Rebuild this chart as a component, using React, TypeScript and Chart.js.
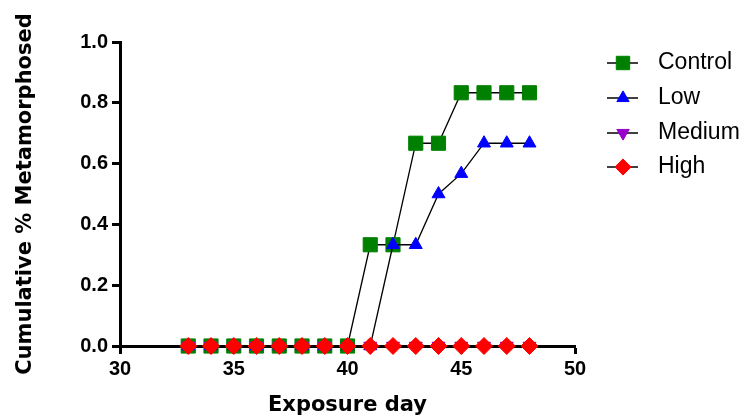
import React, { useEffect, useRef } from 'react';
import { Chart, registerables } from 'chart.js';
import { drawPoint } from 'chart.js/helpers';

Chart.register(...registerables);

const days = [33, 34, 35, 36, 37, 38, 39, 40, 41, 42, 43, 44, 45, 46, 47, 48];
const control = [0, 0, 0, 0, 0, 0, 0, 0, 0.333, 0.333, 0.667, 0.667, 0.833, 0.833, 0.833, 0.833];
const low = [0, 0, 0, 0, 0, 0, 0, 0, 0, 0.333, 0.333, 0.5, 0.567, 0.667, 0.667, 0.667];
const medium = [0, 0, 0, 0, 0, 0, 0, 0, 0, 0, 0, 0, 0, 0, 0, 0];
const high = [0, 0, 0, 0, 0, 0, 0, 0, 0, 0, 0, 0, 0, 0, 0, 0];
const seriesNames = ['Control', 'Low', 'Medium', 'High'];
const xTitle = 'Exposure day';
const yTitle = 'Cumulative % Metamorphosed';

const styles = [
  { color: '#008000', pointStyle: 'rect', radius: 10, rotation: 0 },
  { color: '#0000ff', pointStyle: 'triangle', radius: 7.5, rotation: 0 },
  { color: '#9900cc', pointStyle: 'triangle', radius: 7.5, rotation: 180 },
  { color: '#ff0000', pointStyle: 'rectRot', radius: 8.5, rotation: 0 },
];

const FONT = '"Liberation Sans", Arial, sans-serif';
const TITLE_FONT = '"DejaVu Sans", sans-serif';

const legendPlugin = {
  id: 'customLegend',
  afterDraw(chart: any) {
    const ctx = chart.ctx;
    const x0 = 607;
    const rows = [63, 98, 133, 167];
    ctx.save();
    seriesNames.forEach((name, i) => {
      const y = rows[i];
      const s = styles[i];
      ctx.strokeStyle = '#000';
      ctx.lineWidth = 1.5;
      ctx.beginPath();
      ctx.moveTo(x0, y);
      ctx.lineTo(x0 + 31, y);
      ctx.stroke();
      ctx.fillStyle = s.color;
      ctx.strokeStyle = s.color;
      ctx.lineWidth = 1;
      drawPoint(ctx, { pointStyle: s.pointStyle, radius: s.radius * 0.95, rotation: s.rotation, borderWidth: 1 }, x0 + 16, y);
      ctx.fillStyle = '#000';
      ctx.font = `23px ${FONT}`;
      ctx.textBaseline = 'middle';
      ctx.textAlign = 'left';
      ctx.fillText(name, x0 + 51, y);
    });
    ctx.restore();
  },
};

export default function App() {
  const ref = useRef<HTMLCanvasElement>(null);
  useEffect(() => {
    const all = [control, low, medium, high];
    const datasets = all.map((vals, i) => ({
      label: seriesNames[i],
      data: days.map((d, j) => ({ x: d, y: vals[j] })),
      borderColor: '#000',
      borderWidth: 1.3,
      pointStyle: styles[i].pointStyle,
      pointRadius: styles[i].radius,
      pointRotation: styles[i].rotation,
      pointBackgroundColor: styles[i].color,
      pointBorderColor: styles[i].color,
      pointBorderWidth: 1,
      clip: false,
      order: 3 - i,
      tension: 0,
    }));
    const chart = new Chart(ref.current!, {
      type: 'line',
      data: { datasets },
      plugins: [legendPlugin],
      options: {
        animation: false,
        responsive: false,
        layout: { padding: { left: 0, right: 169, top: 42, bottom: 0 } },
        plugins: { legend: { display: false }, tooltip: { enabled: false } },
        scales: {
          x: {
            type: 'linear',
            min: 30,
            max: 50,
            afterFit: (s: any) => { s.height = 72; },
            ticks: { stepSize: 5, color: '#000', font: { family: FONT, size: 20, weight: 'bold' }, padding: 3 },
            grid: { drawOnChartArea: false, tickLength: 8, tickWidth: 3, tickColor: '#000' },
            border: { color: '#000', width: 3 },
            title: { display: true, text: xTitle, color: '#000', font: { family: TITLE_FONT, size: 21, weight: 'bold' }, padding: { top: 0, bottom: 0 } },
          },
          y: {
            min: 0,
            max: 1,
            afterFit: (s: any) => { s.width = 120; },
            ticks: { stepSize: 0.2, color: '#000', font: { family: FONT, size: 20, weight: 'bold' }, padding: 4, callback: (v: any) => Number(v).toFixed(1) },
            grid: { drawOnChartArea: false, tickLength: 8, tickWidth: 3, tickColor: '#000' },
            border: { color: '#000', width: 3 },
            title: { display: true, text: yTitle, color: '#000', font: { family: TITLE_FONT, size: 21, weight: 'bold' }, padding: { top: 13, bottom: 0 } },
          },
        },
      } as any,
    });
    return () => chart.destroy();
  }, []);
  return (
    <div style={{ position: 'fixed', left: 0, top: 0, width: 744, height: 418, background: '#fff' }}>
      <canvas ref={ref} width={744} height={418} style={{ width: 744, height: 418 }} />
    </div>
  );
}
